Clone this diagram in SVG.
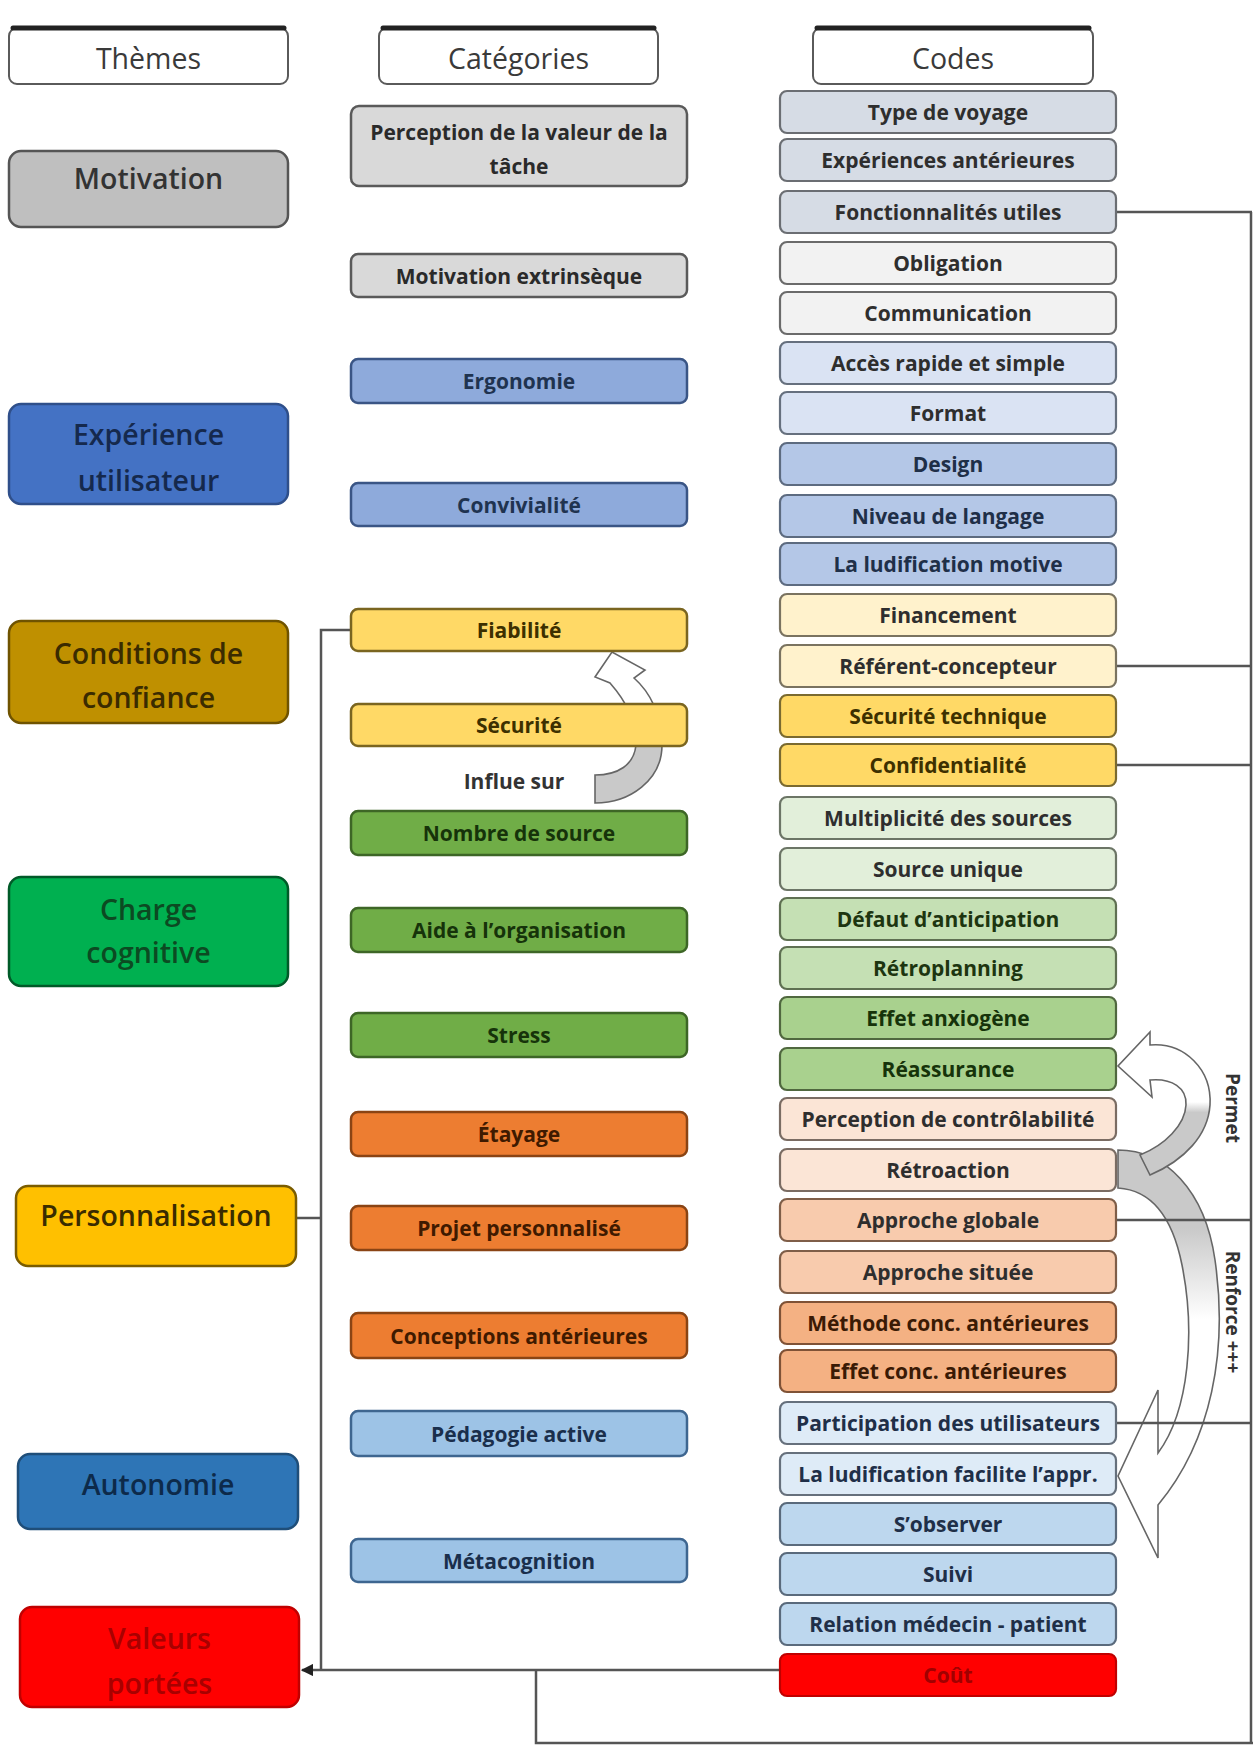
<svg xmlns="http://www.w3.org/2000/svg" width="1253" height="1749" viewBox="0 0 1253 1749">
<style>
  text { font-family: "Open Sans", "Noto Sans", "Liberation Sans", sans-serif; text-anchor: middle; dominant-baseline: central; }
  .hdr rect { fill: #ffffff; stroke: #5a5a5a; stroke-width: 2; }
  .hdr line { stroke: #222; stroke-width: 5; stroke-linecap: round; }
  .hdr text { font-size: 28.5px; font-weight: 500; fill: #3a3a3a; }
  .th rect { stroke-width: 2.5; }
  .th text { font-size: 28.5px; font-weight: 600; }
  .cat rect { stroke-width: 2.5; }
  .cat text { font-size: 21px; font-weight: 700; }
  .code rect { stroke-width: 2.2; }
  .code text { font-size: 21px; font-weight: 700; fill: #2e2e2e; }
  .ln { fill: none; stroke: #555; stroke-width: 2.5; }
  .carrow { stroke: #666; stroke-width: 1.6; }
  .lbl { font-size: 21px; font-weight: 700; fill: #333; }
  .vlbl { font-size: 19px; font-weight: 700; fill: #333; }
  .gray rect { fill: #d9d9d9; stroke: #5a5a5a; } .gray text { fill: #2a2a2a; }
  .blue rect { fill: #8eaadb; stroke: #3a5585; } .blue text { fill: #1f3350; }
  .yel rect { fill: #ffd966; stroke: #7a6520; } .yel text { fill: #3d3000; }
  .grn rect { fill: #70ad47; stroke: #3d6626; } .grn text { fill: #16330a; }
  .org rect { fill: #ed7d31; stroke: #8a4414; } .org text { fill: #3f1a00; }
  .lbl2 rect { fill: #9dc3e6; stroke: #3e6690; } .lbl2 text { fill: #1a2f4c; }
  .c1 rect { fill: #d6dce5; stroke: #6b6e73; }
  .c2 rect { fill: #f2f2f2; stroke: #6b6b6b; }
  .c3 rect { fill: #dae3f3; stroke: #66707e; }
  .c4 rect { fill: #b4c7e7; stroke: #5d6b80; } .c4 text { fill: #1f2f48; }
  .c5 rect { fill: #fff2cc; stroke: #7a7360; }
  .c6 rect { fill: #ffd966; stroke: #7a6a30; } .c6 text { fill: #3d3000; }
  .c7 rect { fill: #e2efda; stroke: #6c7566; }
  .c8 rect { fill: #c5e0b4; stroke: #5f7052; } .c8 text { fill: #1d3510; }
  .c9 rect { fill: #a9d18e; stroke: #50683f; } .c9 text { fill: #16330a; }
  .c10 rect { fill: #fbe5d6; stroke: #7a6c63; }
  .c11 rect { fill: #f8cbad; stroke: #7f5e48; }
  .c12 rect { fill: #f4b183; stroke: #7f5236; } .c12 text { fill: #3a1a05; }
  .c13 rect { fill: #deebf7; stroke: #66707c; } .c13 text { fill: #1f2f48; }
  .c14 rect { fill: #bdd7ee; stroke: #5a6a7c; } .c14 text { fill: #1f2f48; }
  .c15 rect { fill: #ff0000; stroke: #c00000; } .c15 text { fill: #a00000; }
</style>
<defs>
  <marker id="ah" viewBox="0 0 10 10" refX="9" refY="5" markerWidth="5" markerHeight="5" orient="auto-start-reverse">
    <path d="M0,0 L10,5 L0,10 Z" fill="#222"/>
  </marker>
  <linearGradient id="gInflue" gradientUnits="userSpaceOnUse" x1="0" y1="640" x2="0" y2="810">
    <stop offset="0" stop-color="#ffffff"/>
    <stop offset="0.62" stop-color="#ffffff"/>
    <stop offset="0.63" stop-color="#c9c9c9"/>
    <stop offset="1" stop-color="#c9c9c9"/>
  </linearGradient>
  <linearGradient id="gPermet" gradientUnits="userSpaceOnUse" x1="0" y1="1030" x2="0" y2="1180">
    <stop offset="0" stop-color="#ffffff"/>
    <stop offset="0.48" stop-color="#ffffff"/>
    <stop offset="0.55" stop-color="#c9c9c9"/>
    <stop offset="1" stop-color="#c9c9c9"/>
  </linearGradient>
  <linearGradient id="gRenf" gradientUnits="userSpaceOnUse" x1="0" y1="1145" x2="0" y2="1560">
    <stop offset="0" stop-color="#c9c9c9"/>
    <stop offset="0.2" stop-color="#c9c9c9"/>
    <stop offset="0.42" stop-color="#ffffff"/>
    <stop offset="1" stop-color="#ffffff"/>
  </linearGradient>
</defs>
<rect width="1253" height="1749" fill="#ffffff"/>

<g id="connectors">
  <path id="arrow-influe" class="carrow" fill="url(#gInflue)" d="M595,803 C630,803 662,780 662,745 C662,715 650,692 634,678 L645,670 L612,652 L595,677 L610,683 C625,700 637,722 636,745 C634,765 618,775 595,775 Z"/>
  <path id="arrow-renforce" class="carrow" fill="url(#gRenf)" d="M1118,1150 C1165,1150 1205,1190 1215,1260 C1228,1350 1212,1440 1158,1505 L1158,1558 L1118,1476 L1158,1390 L1158,1453 C1190,1410 1195,1330 1182,1265 C1172,1215 1150,1190 1118,1188 Z"/>
  <path id="arrow-permet" class="carrow" fill="url(#gPermet)" d="M1150,1045 C1185,1042 1212,1070 1210,1105 C1208,1135 1185,1160 1150,1175 L1140,1155 C1165,1145 1185,1125 1186,1105 C1187,1088 1172,1078 1150,1080 L1152,1097 L1118,1066 L1150,1032 Z"/>
  <text class="lbl" x="514" y="781">Influe sur</text>
  <text class="vlbl" x="0" y="0" transform="translate(1233,1108) rotate(90)">Permet</text>
  <text class="vlbl" x="0" y="0" transform="translate(1233,1312) rotate(90)">Renforce +++</text>

  <path class="ln" d="M351,630 H321 V1670"/>
  <path class="ln" d="M296,1218 H321"/>
  <path class="ln" d="M780,1670 H302" marker-end="url(#ah)"/>
  <path class="ln" d="M536,1670 V1743 H1253"/>
  <path class="ln" d="M1251,212 V1743"/>
  <path class="ln" d="M1116,212 H1252"/>
  <path class="ln" d="M1116,666 H1252"/>
  <path class="ln" d="M1116,765 H1252"/>
  <path class="ln" d="M1116,1220 H1252"/>
  <path class="ln" d="M1116,1423 H1252"/>
</g>

<g id="headers">
  <g id="h-themes" class="hdr"><rect x="9" y="28" width="279" height="56" rx="8"/><line x1="13" y1="28" x2="284" y2="28"/><text x="148.5" y="58">Thèmes</text></g>
  <g id="h-categories" class="hdr"><rect x="379" y="28" width="279" height="56" rx="8"/><line x1="383" y1="28" x2="654" y2="28"/><text x="518.5" y="58">Catégories</text></g>
  <g id="h-codes" class="hdr"><rect x="813" y="28" width="280" height="56" rx="8"/><line x1="817" y1="28" x2="1089" y2="28"/><text x="953" y="58">Codes</text></g>
</g>

<g id="themes">
  <g id="t-motivation" class="th"><rect x="9" y="151" width="279" height="76" rx="12" fill="#bfbfbf" stroke="#555"/><text x="148.5" y="178" fill="#333">Motivation</text></g>
  <g id="t-experience" class="th"><rect x="9" y="404" width="279" height="100" rx="12" fill="#4472c4" stroke="#2f4f8a"/><text x="148.5" y="434" fill="#15294d">Expérience</text><text x="148.5" y="480" fill="#15294d">utilisateur</text></g>
  <g id="t-conditions" class="th"><rect x="9" y="621" width="279" height="102" rx="12" fill="#bf9000" stroke="#6f5300"/><text x="148.5" y="653" fill="#3a2b00">Conditions de</text><text x="148.5" y="697" fill="#3a2b00">confiance</text></g>
  <g id="t-charge" class="th"><rect x="9" y="877" width="279" height="109" rx="12" fill="#00b050" stroke="#005a28"/><text x="148.5" y="909" fill="#0c4a22">Charge</text><text x="148.5" y="952" fill="#0c4a22">cognitive</text></g>
  <g id="t-perso" class="th"><rect x="16" y="1186" width="280" height="80" rx="12" fill="#ffc000" stroke="#7a5c00"/><text x="156" y="1215" fill="#3a2c00">Personnalisation</text></g>
  <g id="t-autonomie" class="th"><rect x="18" y="1454" width="280" height="75" rx="12" fill="#2e75b6" stroke="#1f4e79"/><text x="158" y="1484" fill="#0d2a4a">Autonomie</text></g>
  <g id="t-valeurs" class="th"><rect x="20" y="1607" width="279" height="100" rx="12" fill="#ff0000" stroke="#c00000"/><text x="159.5" y="1638" fill="#a80000">Valeurs</text><text x="159.5" y="1683" fill="#a80000">portées</text></g>
</g>

<g id="categories">
  <g id="k-perception" class="cat gray"><rect x="351" y="106" width="336" height="80" rx="8"/><text x="519" y="132">Perception de la valeur de la</text><text x="519" y="166">tâche</text></g>
  <g id="k-motext" class="cat gray"><rect x="351" y="254" width="336" height="43" rx="7"/><text x="519" y="276">Motivation extrinsèque</text></g>
  <g id="k-ergonomie" class="cat blue"><rect x="351" y="359" width="336" height="44" rx="7"/><text x="519" y="381">Ergonomie</text></g>
  <g id="k-convivialite" class="cat blue"><rect x="351" y="483" width="336" height="43" rx="7"/><text x="519" y="505">Convivialité</text></g>
  <g id="k-fiabilite" class="cat yel"><rect x="351" y="609" width="336" height="42" rx="7"/><text x="519" y="630">Fiabilité</text></g>
  <g id="k-securite" class="cat yel"><rect x="351" y="704" width="336" height="42" rx="7"/><text x="519" y="725">Sécurité</text></g>
  <g id="k-nombre" class="cat grn"><rect x="351" y="811" width="336" height="44" rx="7"/><text x="519" y="833">Nombre de source</text></g>
  <g id="k-aide" class="cat grn"><rect x="351" y="908" width="336" height="44" rx="7"/><text x="519" y="930">Aide à l’organisation</text></g>
  <g id="k-stress" class="cat grn"><rect x="351" y="1013" width="336" height="44" rx="7"/><text x="519" y="1035">Stress</text></g>
  <g id="k-etayage" class="cat org"><rect x="351" y="1112" width="336" height="44" rx="7"/><text x="519" y="1134">Étayage</text></g>
  <g id="k-projet" class="cat org"><rect x="351" y="1206" width="336" height="44" rx="7"/><text x="519" y="1228">Projet personnalisé</text></g>
  <g id="k-conceptions" class="cat org"><rect x="351" y="1313" width="336" height="45" rx="7"/><text x="519" y="1336">Conceptions antérieures</text></g>
  <g id="k-pedagogie" class="cat lbl2"><rect x="351" y="1411" width="336" height="45" rx="7"/><text x="519" y="1434">Pédagogie active</text></g>
  <g id="k-metacognition" class="cat lbl2"><rect x="351" y="1539" width="336" height="43" rx="7"/><text x="519" y="1561">Métacognition</text></g>
</g>

<g id="codes">
  <g id="c01" class="code c1"><rect x="780" y="91" width="336" height="42" rx="7"/><text x="948" y="112">Type de voyage</text></g>
  <g id="c02" class="code c1"><rect x="780" y="139" width="336" height="42" rx="7"/><text x="948" y="160">Expériences antérieures</text></g>
  <g id="c03" class="code c1"><rect x="780" y="191" width="336" height="42" rx="7"/><text x="948" y="212">Fonctionnalités utiles</text></g>
  <g id="c04" class="code c2"><rect x="780" y="242" width="336" height="42" rx="7"/><text x="948" y="263">Obligation</text></g>
  <g id="c05" class="code c2"><rect x="780" y="292" width="336" height="42" rx="7"/><text x="948" y="313">Communication</text></g>
  <g id="c06" class="code c3"><rect x="780" y="342" width="336" height="42" rx="7"/><text x="948" y="363">Accès rapide et simple</text></g>
  <g id="c07" class="code c3"><rect x="780" y="392" width="336" height="42" rx="7"/><text x="948" y="413">Format</text></g>
  <g id="c08" class="code c4"><rect x="780" y="443" width="336" height="42" rx="7"/><text x="948" y="464">Design</text></g>
  <g id="c09" class="code c4"><rect x="780" y="495" width="336" height="42" rx="7"/><text x="948" y="516">Niveau de langage</text></g>
  <g id="c10" class="code c4"><rect x="780" y="543" width="336" height="42" rx="7"/><text x="948" y="564">La ludification motive</text></g>
  <g id="c11" class="code c5"><rect x="780" y="594" width="336" height="42" rx="7"/><text x="948" y="615">Financement</text></g>
  <g id="c12" class="code c5"><rect x="780" y="645" width="336" height="42" rx="7"/><text x="948" y="666">Référent-concepteur</text></g>
  <g id="c13" class="code c6"><rect x="780" y="695" width="336" height="42" rx="7"/><text x="948" y="716">Sécurité technique</text></g>
  <g id="c14" class="code c6"><rect x="780" y="744" width="336" height="42" rx="7"/><text x="948" y="765">Confidentialité</text></g>
  <g id="c15" class="code c7"><rect x="780" y="797" width="336" height="42" rx="7"/><text x="948" y="818">Multiplicité des sources</text></g>
  <g id="c16" class="code c7"><rect x="780" y="848" width="336" height="42" rx="7"/><text x="948" y="869">Source unique</text></g>
  <g id="c17" class="code c8"><rect x="780" y="898" width="336" height="42" rx="7"/><text x="948" y="919">Défaut d’anticipation</text></g>
  <g id="c18" class="code c8"><rect x="780" y="947" width="336" height="42" rx="7"/><text x="948" y="968">Rétroplanning</text></g>
  <g id="c19" class="code c9"><rect x="780" y="997" width="336" height="42" rx="7"/><text x="948" y="1018">Effet anxiogène</text></g>
  <g id="c20" class="code c9"><rect x="780" y="1048" width="336" height="42" rx="7"/><text x="948" y="1069">Réassurance</text></g>
  <g id="c21" class="code c10"><rect x="780" y="1098" width="336" height="42" rx="7"/><text x="948" y="1119">Perception de contrôlabilité</text></g>
  <g id="c22" class="code c10"><rect x="780" y="1149" width="336" height="42" rx="7"/><text x="948" y="1170">Rétroaction</text></g>
  <g id="c23" class="code c11"><rect x="780" y="1199" width="336" height="42" rx="7"/><text x="948" y="1220">Approche globale</text></g>
  <g id="c24" class="code c11"><rect x="780" y="1251" width="336" height="42" rx="7"/><text x="948" y="1272">Approche située</text></g>
  <g id="c25" class="code c12"><rect x="780" y="1302" width="336" height="42" rx="7"/><text x="948" y="1323">Méthode conc. antérieures</text></g>
  <g id="c26" class="code c12"><rect x="780" y="1350" width="336" height="42" rx="7"/><text x="948" y="1371">Effet conc. antérieures</text></g>
  <g id="c27" class="code c13"><rect x="780" y="1402" width="336" height="42" rx="7"/><text x="948" y="1423">Participation des utilisateurs</text></g>
  <g id="c28" class="code c13"><rect x="780" y="1453" width="336" height="42" rx="7"/><text x="948" y="1474">La ludification facilite l’appr.</text></g>
  <g id="c29" class="code c14"><rect x="780" y="1503" width="336" height="42" rx="7"/><text x="948" y="1524">S’observer</text></g>
  <g id="c30" class="code c14"><rect x="780" y="1553" width="336" height="42" rx="7"/><text x="948" y="1574">Suivi</text></g>
  <g id="c31" class="code c14"><rect x="780" y="1603" width="336" height="42" rx="7"/><text x="948" y="1624">Relation médecin - patient</text></g>
  <g id="c32" class="code c15"><rect x="780" y="1654" width="336" height="42" rx="7"/><text x="948" y="1675">Coût</text></g>
</g>
</svg>
